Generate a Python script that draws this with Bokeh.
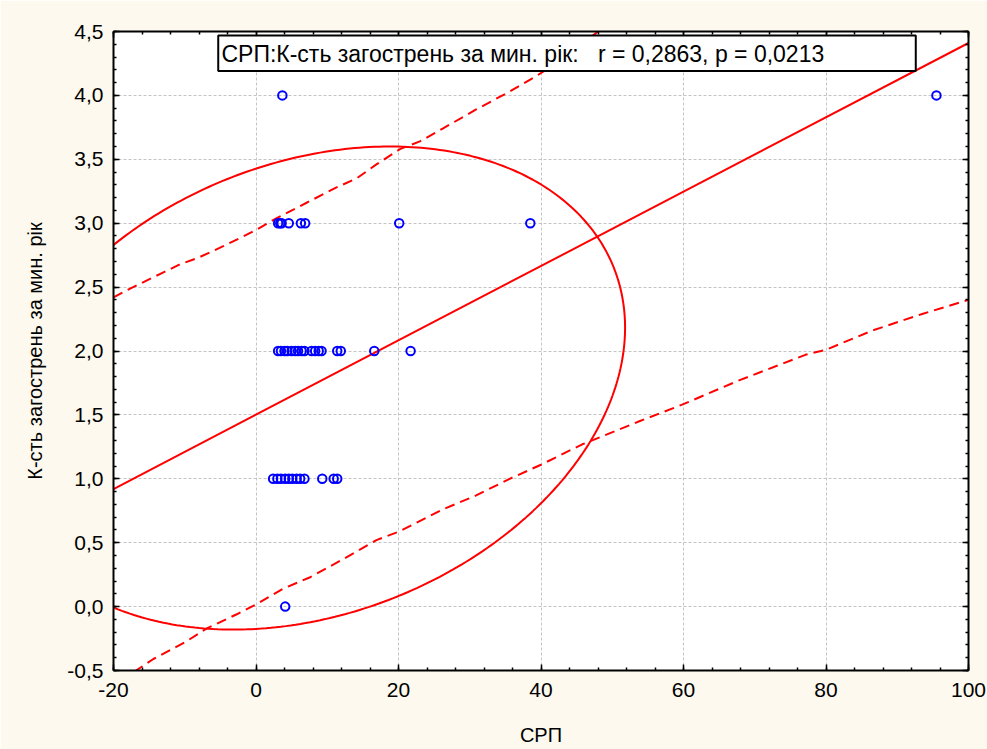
import numpy as np
from bokeh.plotting import figure
from bokeh.models import Range1d, FixedTicker, LinearAxis, Label, BoxAnnotation
from bokeh.embed import file_html
from bokeh.resources import INLINE

# ---- data ----
srp = [3.7, 95.5,
       3.1, 3.4, 3.6, 4.6, 6.3, 6.9, 20.1, 38.5,
       3.1, 3.5, 4.0, 4.4, 5.0, 5.5, 5.9, 6.4, 6.8, 7.8, 8.3, 8.8, 9.2, 11.4, 11.9, 16.6, 21.7,
       2.4, 3.0, 3.5, 4.1, 4.6, 5.1, 5.7, 6.2, 6.8, 9.3, 10.9, 11.4,
       4.1]
exac = [4, 4,
        3, 3, 3, 3, 3, 3, 3, 3,
        2, 2, 2, 2, 2, 2, 2, 2, 2, 2, 2, 2, 2, 2, 2, 2, 2,
        1, 1, 1, 1, 1, 1, 1, 1, 1, 1, 1, 1,
        0]

fit_x = [-20, 100]
fit_y = [0.92, 4.41]

upper_x = [-20, -17.6, -13.2, -10.6, -8.1, -4.6, -1.3, 0.1, 2.9, 7.1, 11.3, 14.1,
           16.9, 20.2, 23.0, 26.2, 30.9, 35.6, 39.3, 43.5, 48.0]
upper_y = [2.42, 2.49, 2.61, 2.68, 2.73, 2.82, 2.91, 2.95, 3.04, 3.16, 3.28, 3.35,
           3.46, 3.58, 3.64, 3.74, 3.89, 4.03, 4.15, 4.30, 4.50]

lower_x = [-17.1, -14.4, -9.7, -6.9, -2.7, 0.1, 3.8, 7.6, 12.2, 16.9, 20.2, 26.2,
           30.9, 35.6, 40.0, 45.8, 53.8, 59.8, 67.8, 77.1, 80.0, 86.5, 93.5, 100]
lower_y = [-0.51, -0.41, -0.27, -0.17, -0.06, 0.02, 0.14, 0.23, 0.37, 0.52, 0.59, 0.76,
           0.87, 1.00, 1.11, 1.27, 1.45, 1.58, 1.77, 1.97, 2.01, 2.16, 2.29, 2.40]

# 95% ellipse parameters (centre, semi-extents, correlation)
ell_cx, ell_cy = 7.8, 1.71
ell_ax, ell_ay = 44.0, 1.89
ell_rho = 0.25

x_ticks = [-20, 0, 20, 40, 60, 80, 100]
x_tick_labels = ["-20", "0", "20", "40", "60", "80", "100"]
y_ticks = [-0.5, 0.0, 0.5, 1.0, 1.5, 2.0, 2.5, 3.0, 3.5, 4.0, 4.5]
y_tick_labels = ["-0,5", "0,0", "0,5", "1,0", "1,5", "2,0", "2,5", "3,0", "3,5", "4,0", "4,5"]

title_text = "СРП:К-сть загострень за мин. рік:\u00a0\u00a0\u00a0r = 0,2863, p = 0,0213"
x_label = "СРП"
y_label = "К-сть загострень за мин. рік"

FONT = "Liberation Sans"
RED = "#FF0000"

p = figure(width=987, height=749,
           x_range=Range1d(-20, 100), y_range=Range1d(-0.5, 4.5),
           output_backend="svg", toolbar_location=None,
           background_fill_color="white", border_fill_color="#FDF9EE",
           min_border_left=113, min_border_right=19,
           min_border_top=31, min_border_bottom=79)
p.outline_line_color = None

x_minor = list(np.round(np.arange(-20, 100.01, 4), 6))
y_minor = list(np.round(np.arange(-0.5, 4.501, 0.1), 6))
xt = FixedTicker(ticks=x_ticks, minor_ticks=x_minor)
yt = FixedTicker(ticks=y_ticks, minor_ticks=y_minor)


def style_axis(ax, labels=True):
    ax.axis_line_color = "black"
    ax.axis_line_width = 2
    ax.major_tick_line_color = "black"
    ax.minor_tick_line_color = "black"
    ax.major_tick_line_width = 1.5
    ax.minor_tick_line_width = 1.5
    ax.major_tick_in = 6
    ax.major_tick_out = 0
    ax.minor_tick_in = 3
    ax.minor_tick_out = 0
    if labels:
        ax.major_label_text_font = FONT
        ax.major_label_text_font_size = "21px"
        ax.major_label_text_color = "black"
        ax.major_label_standoff = 10
        ax.axis_label_text_font = FONT
        ax.axis_label_text_font_size = "20px"
        ax.axis_label_text_font_style = "normal"
        ax.axis_label_text_color = "black"
    else:
        ax.major_label_text_font_size = "1px"
        ax.major_label_text_color = None
        ax.major_label_standoff = 0


xa = p.xaxis[0]
xa.ticker = xt
xa.major_label_overrides = {t: l for t, l in zip(x_ticks, x_tick_labels)}
xa.axis_label = x_label
style_axis(xa)
xa.major_label_standoff = 12
xa.axis_label_standoff = 24

ya = p.yaxis[0]
ya.ticker = yt
ya.major_label_overrides = {t: l for t, l in zip(y_ticks, y_tick_labels)}
ya.axis_label = y_label
style_axis(ya)
ya.axis_label_standoff = 18

top_ax = LinearAxis(ticker=FixedTicker(ticks=x_ticks, minor_ticks=x_minor))
style_axis(top_ax, labels=False)
p.add_layout(top_ax, "above")
right_ax = LinearAxis(ticker=FixedTicker(ticks=y_ticks, minor_ticks=y_minor))
style_axis(right_ax, labels=False)
p.add_layout(right_ax, "right")

p.xgrid.ticker = FixedTicker(ticks=x_ticks)
p.ygrid.ticker = FixedTicker(ticks=y_ticks)
for g in (p.xgrid, p.ygrid):
    g.grid_line_color = "#C4C4C4"
    g.grid_line_dash = "3 2"
    g.grid_line_width = 1

# ellipse
t = np.linspace(0, 2 * np.pi, 400)
ex = ell_cx + ell_ax * np.cos(t)
ey = ell_cy + ell_ay * (ell_rho * np.cos(t) + np.sqrt(1 - ell_rho ** 2) * np.sin(t))
p.line(ex, ey, line_color=RED, line_width=2)

# regression line and bands
p.line(fit_x, fit_y, line_color=RED, line_width=2)
p.line(upper_x, upper_y, line_color=RED, line_width=2, line_dash="10 6")
p.line(lower_x, lower_y, line_color=RED, line_width=2, line_dash="10 6")

# points
p.scatter(srp, exac, marker="circle", size=8.5, fill_color=None,
          line_color="#0000FF", line_width=2)

# legend box
box = BoxAnnotation(left=-5.3, right=92.6, bottom=4.19, top=4.468,
                    fill_color="white", fill_alpha=1.0,
                    line_color="black", line_width=2, line_alpha=1.0)
p.add_layout(box)
lab = Label(x=-4.85, y=4.325, text=title_text, text_font=FONT,
            text_font_size="23px", text_baseline="middle", text_color="black")
p.add_layout(lab)

open("out.html", "w").write(file_html(p, INLINE))
